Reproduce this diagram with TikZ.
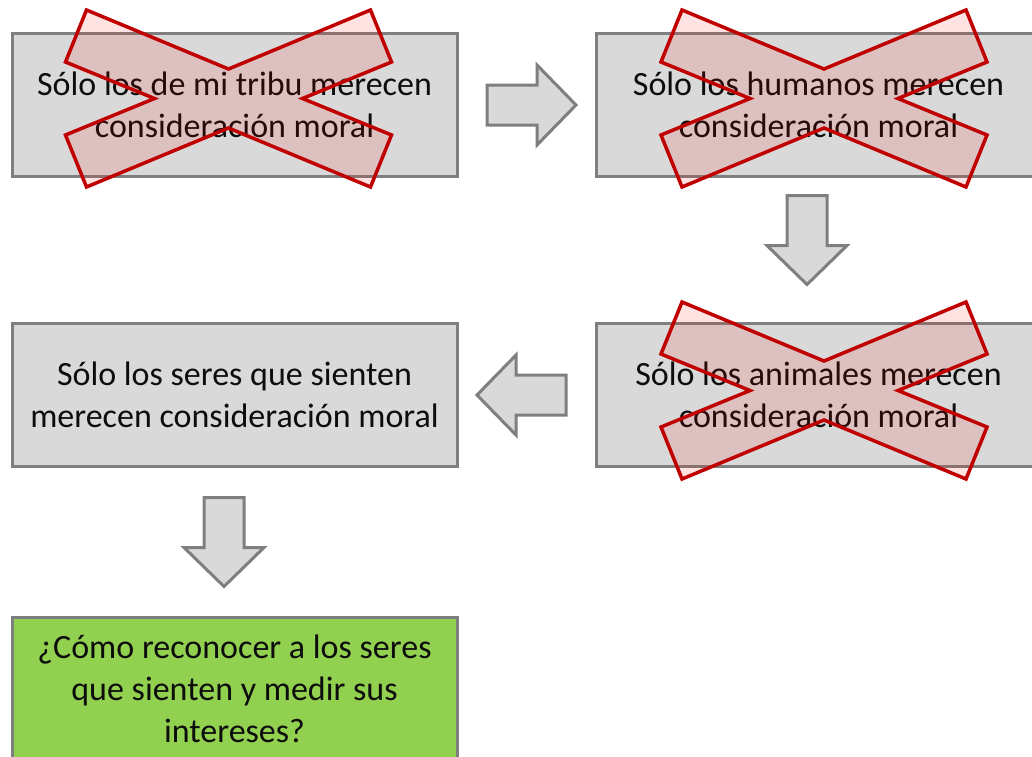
\documentclass[tikz,border=0pt]{standalone}
\usepackage{fontspec}
\setmainfont{Carlito}
\usetikzlibrary{positioning}
\definecolor{cajagris}{HTML}{D9D9D9}
\definecolor{bordegris}{HTML}{7F7F7F}
\definecolor{verde}{HTML}{92D050}
\definecolor{rojox}{HTML}{C00000}
\tikzset{
	caja/.style={draw=bordegris, line width=3pt, fill=cajagris,
		minimum width=445pt, minimum height=143pt, inner sep=0pt,
		align=center, font=\fontsize{34}{42}\selectfont, text=black!95},
	pregunta/.style={caja, fill=verde},
	flecha/.pic={
		\draw[draw=bordegris, line width=3pt, fill=cajagris, line join=miter]
			(-44.5,-20) -- (5.5,-20) -- (5.5,-40) -- (44.5,0) -- (5.5,40) -- (5.5,20) -- (-44.5,20) -- cycle;
	},
	tacha/.pic={
		\draw[draw=rojox, line width=3.5pt, fill=red, fill opacity=0.11, line join=miter]
			(-142,-88.5) -- (0,-29.5) -- (142,-88.5) -- (163,-36.5) -- (74,0) -- (163,36.5)
			-- (142,88.5) -- (0,29.5) -- (-142,88.5) -- (-163,36.5) -- (-74,0) -- (-163,-36.5) -- cycle;
	}
}

\begin{document}
\begin{tikzpicture}[x=1pt, y=-1pt]
	\useasboundingbox (0,0) rectangle (1032,756);
	\clip (0,0) rectangle (1032,756);
	
	\node[caja] (tribu) at (234.5,104.5) {Sólo los de mi tribu merecen\\consideración moral};
	\node[caja] (humanos) at (818.5,104.5) {Sólo los humanos merecen\\consideración moral};
	\node[caja] (animales) at (818.5,395) {Sólo los animales merecen\\consideración moral};
	\node[caja] (sienten) at (234.5,395) {Sólo los seres que sienten\\merecen consideración moral};
	\node[pregunta] (medir) at (234.5,688.5) {¿Cómo reconocer a los seres\\que sienten y medir sus\\intereses?};
	
	% flechas
	\pic at (531.5,105) {flecha};
	\pic[rotate=-90] at (807,240) {flecha};
	\pic[rotate=180] at (521.5,395) {flecha};
	\pic[rotate=-90] at (224,542) {flecha};
	
	% tachones
	\pic at (228.5,98.5) {tacha};
	\pic at (824,98.5) {tacha};
	\pic at (824,390.5) {tacha};
\end{tikzpicture}
\end{document}
